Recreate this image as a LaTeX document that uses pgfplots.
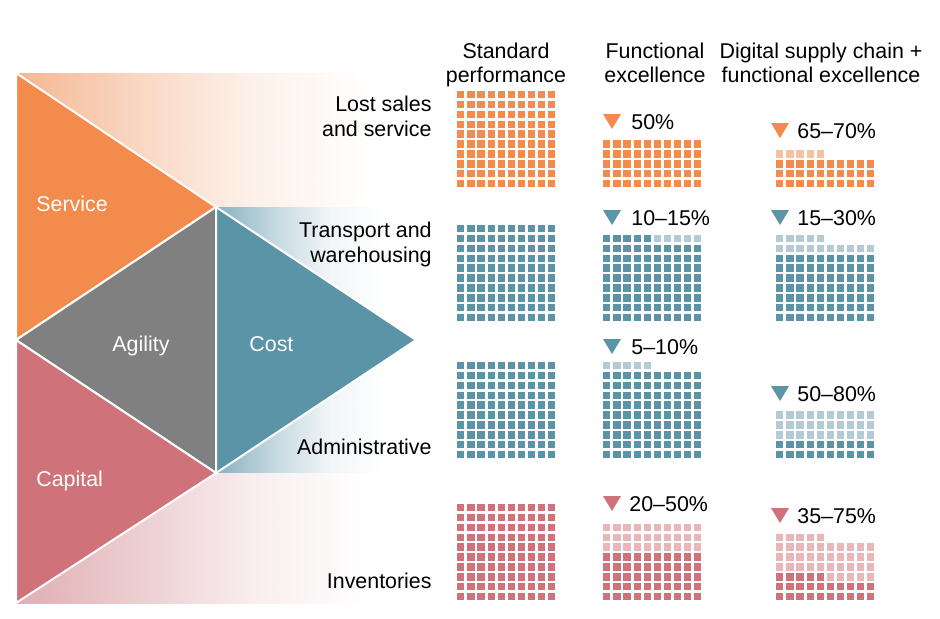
\documentclass[border=0pt]{standalone}
\usepackage{pgfplots}
\pgfplotsset{compat=1.18}
\usepackage{fontspec}
\setmainfont{Liberation Sans}
\definecolor{cOr}{HTML}{F38B4C}
\definecolor{cOrL}{HTML}{F7C1A1}
\definecolor{cOrB}{HTML}{F5B792}
\definecolor{cTe}{HTML}{5B93A7}
\definecolor{cTeL}{HTML}{B4CBD5}
\definecolor{cTeB}{HTML}{8AB1C1}
\definecolor{cPk}{HTML}{CF7279}
\definecolor{cPkL}{HTML}{E9B6BA}
\definecolor{cPkB}{HTML}{E0AEB3}
\definecolor{cGr}{HTML}{808080}

% waffle: #1 x of first column centre, #2 y of bottom row centre, #3 first cell index, #4 number of cells, #5 colour
\newcommand\waffle[5]{%
  \ifnum#4>0\relax
    \gdef\coords{}%
    \pgfmathtruncatemacro\wlast{#3+#4-1}%
    \foreach \k in {#3,...,\wlast}{%
      \pgfmathtruncatemacro\wcol{mod(\k,10)}%
      \pgfmathtruncatemacro\wrow{floor(\k/10)}%
      \pgfmathsetmacro\wx{#1+\wcol*10.1}%
      \pgfmathsetmacro\wy{#2-\wrow*9.95}%
      \xdef\coords{\coords(\wx,\wy)}%
    }%
    \edef\tmp{\noexpand\addplot[only marks, mark=square*, color=#5, mark size=1.55pt, mark options={line width=0.2pt}] coordinates {\coords};}%
    \tmp
  \fi
}
% down triangle marker + label: #1 x left, #2 baseline, #3 colour, #4 text x, #5 text
\newcommand\drop[5]{%
  \addplot[draw=none, fill=#3] coordinates {(#1,#2-15) (#1+18,#2-15) (#1+9,#2)} --cycle;
  \node[anchor=base west] at (axis cs:#4,#2) {#5};
}

\begin{document}
\begin{tikzpicture}
\tikzset{every node/.append style={font=\fontsize{10.7}{12.8}\selectfont, inner sep=0pt}}
\begin{axis}[width=470pt, height=309pt, scale only axis,
  xmin=0, xmax=940, ymin=0, ymax=618, y dir=reverse,
  hide axis, clip=false, point meta min=0, point meta max=1]
% background
\addplot[draw=none, fill=white] coordinates {(0,0) (940,0) (940,618) (0,618)} --cycle;
% gradient bands (meta = strength of the tint, 1 at the left edge, 0 = white)
\addplot[patch, patch type=rectangle, shader=interp, point meta=explicit,
  colormap={orfade}{color=(white) color=(cOrB)}] coordinates {
  (16,73) [1] (140,73) [0.55] (140,207) [0.55] (16,207) [1]
  (140,73) [0.55] (250,73) [0.2] (250,207) [0.2] (140,207) [0.55]
  (250,73) [0.2] (370,73) [0] (370,207) [0] (250,207) [0.2]
};
\addplot[patch, patch type=rectangle, shader=interp, point meta=explicit,
  colormap={tefade}{color=(white) color=(cTeB)}] coordinates {
  (216,207) [1] (280,207) [0.45] (280,473) [0.45] (216,473) [1]
  (280,207) [0.45] (330,207) [0.12] (330,473) [0.12] (280,473) [0.45]
  (330,207) [0.12] (385,207) [0] (385,473) [0] (330,473) [0.12]
};
\addplot[patch, patch type=rectangle, shader=interp, point meta=explicit,
  colormap={pkfade}{color=(white) color=(cPkB)}] coordinates {
  (16,473) [1] (140,473) [0.6] (140,603) [0.6] (16,603) [1]
  (140,473) [0.6] (250,473) [0.22] (250,603) [0.22] (140,603) [0.6]
  (250,473) [0.22] (370,473) [0] (370,603) [0] (250,603) [0.22]
};
% triangles
\addplot[draw=white, line width=1pt, fill=cOr] coordinates {(16,73) (216,207) (16,340)} --cycle;
\addplot[draw=white, line width=1pt, fill=cGr] coordinates {(16,340) (216,207) (216,473)} --cycle;
\addplot[draw=white, line width=1pt, fill=cPk] coordinates {(16,340) (216,473) (16,603)} --cycle;
\addplot[draw=white, line width=1pt, fill=cTe] coordinates {(216,207) (416,340) (216,473)} --cycle;
\node[anchor=base west, text=white] at (axis cs:36,211) {Service};
\node[anchor=base, text=white] at (axis cs:141,351) {Agility};
\node[anchor=base west, text=white] at (axis cs:249,351) {Cost};
\node[anchor=base west, text=white] at (axis cs:36,486) {Capital};
% row labels
\node[anchor=base east] at (axis cs:432,111) {Lost sales};
\node[anchor=base east] at (axis cs:432,136) {and service};
\node[anchor=base east] at (axis cs:432,237) {Transport and};
\node[anchor=base east] at (axis cs:432,262) {warehousing};
\node[anchor=base east] at (axis cs:432,454) {Administrative};
\node[anchor=base east] at (axis cs:432,588) {Inventories};
% column headers
\node[anchor=base] at (axis cs:506,58) {Standard};
\node[anchor=base] at (axis cs:506,82.5) {performance};
\node[anchor=base] at (axis cs:655,58) {Functional};
\node[anchor=base] at (axis cs:655,82.5) {excellence};
\node[anchor=base] at (axis cs:821,58) {Digital supply chain +};
\node[anchor=base] at (axis cs:821,82.5) {functional excellence};
% Lost sales and service
\waffle{460.5}{183.5}{0}{100}{cOr}
\waffle{606.5}{183.5}{0}{50}{cOr}
\waffle{779.5}{183.5}{0}{30}{cOr}
\waffle{779.5}{183.5}{30}{5}{cOrL}
\drop{603}{129}{cOr}{631}{50\%}
\drop{771}{138}{cOr}{797}{65--70\%}
% Transport and warehousing
\waffle{460.5}{317.5}{0}{100}{cTe}
\waffle{606.5}{317.5}{0}{85}{cTe}
\waffle{606.5}{317.5}{85}{5}{cTeL}
\waffle{779.5}{317.5}{0}{70}{cTe}
\waffle{779.5}{317.5}{70}{15}{cTeL}
\drop{603}{225}{cTe}{631}{10--15\%}
\drop{771}{225}{cTe}{797}{15--30\%}
% Administrative
\waffle{460.5}{454.5}{0}{100}{cTe}
\waffle{606.5}{454.5}{0}{90}{cTe}
\waffle{606.5}{454.5}{90}{5}{cTeL}
\waffle{779.5}{454.5}{0}{20}{cTe}
\waffle{779.5}{454.5}{20}{30}{cTeL}
\drop{603}{354}{cTe}{631}{5--10\%}
\drop{771}{401}{cTe}{797}{50--80\%}
% Inventories
\waffle{460.5}{596.5}{0}{100}{cPk}
\waffle{606.5}{596.5}{0}{50}{cPk}
\waffle{606.5}{596.5}{50}{30}{cPkL}
\waffle{779.5}{596.5}{0}{25}{cPk}
\waffle{779.5}{596.5}{25}{40}{cPkL}
\drop{603}{511}{cPk}{629}{20--50\%}
\drop{771}{523}{cPk}{797}{35--75\%}
\end{axis}
\end{tikzpicture}
\end{document}
